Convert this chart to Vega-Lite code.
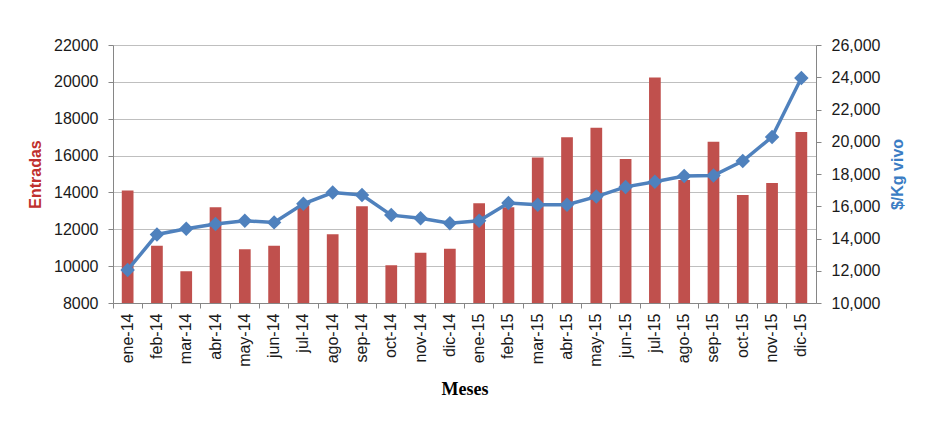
{
  "$schema": "https://vega.github.io/schema/vega-lite/v6.json",
  "width": 703,
  "height": 258,
  "autosize": {"type": "none"},
  "padding": {"left": 113, "top": 45, "right": 115, "bottom": 122},
  "background": "white",
  "config": {
    "view": {"stroke": null},
    "font": "Liberation Sans",
    "axis": {
      "domainColor": "#868686",
      "tickColor": "#868686",
      "tickSize": 5,
      "labelColor": "#1a1a1a",
      "labelFont": "Liberation Sans",
      "labelFontSize": 16,
      "gridColor": "#BFBFBF",
      "gridWidth": 1.2
    }
  },
  "data": {
    "values": [
      {"mes": "ene-14", "entradas": 14100, "precio": 12050},
      {"mes": "feb-14", "entradas": 11100, "precio": 14250},
      {"mes": "mar-14", "entradas": 9720, "precio": 14600},
      {"mes": "abr-14", "entradas": 13200, "precio": 14900},
      {"mes": "may-14", "entradas": 10920, "precio": 15100},
      {"mes": "jun-14", "entradas": 11100, "precio": 15000},
      {"mes": "jul-14", "entradas": 13300, "precio": 16150},
      {"mes": "ago-14", "entradas": 11730, "precio": 16850},
      {"mes": "sep-14", "entradas": 13250, "precio": 16700},
      {"mes": "oct-14", "entradas": 10050, "precio": 15450},
      {"mes": "nov-14", "entradas": 10720, "precio": 15250},
      {"mes": "dic-14", "entradas": 10950, "precio": 14950},
      {"mes": "ene-15", "entradas": 13410, "precio": 15100},
      {"mes": "feb-15", "entradas": 13200, "precio": 16200},
      {"mes": "mar-15", "entradas": 15900, "precio": 16100},
      {"mes": "abr-15", "entradas": 17000, "precio": 16100},
      {"mes": "may-15", "entradas": 17510, "precio": 16600},
      {"mes": "jun-15", "entradas": 15810, "precio": 17200},
      {"mes": "jul-15", "entradas": 20230, "precio": 17520},
      {"mes": "ago-15", "entradas": 14680, "precio": 17870},
      {"mes": "sep-15", "entradas": 16750, "precio": 17900},
      {"mes": "oct-15", "entradas": 13860, "precio": 18800},
      {"mes": "nov-15", "entradas": 14510, "precio": 20300},
      {"mes": "dic-15", "entradas": 17280, "precio": 23950}
    ]
  },
  "encoding": {
    "x": {
      "field": "mes",
      "type": "ordinal",
      "sort": null,
      "scale": {"paddingInner": 0, "paddingOuter": 0},
      "axis": {
        "title": "Meses",
        "titleFont": "Liberation Serif",
        "titleFontSize": 18,
        "titleFontWeight": "bold",
        "titleColor": "#000000",
        "titlePadding": 14,
        "labelAngle": -90,
        "labelPadding": 5,
        "labelFontSize": 16,
        "bandPosition": 0,
        "ticks": true,
        "grid": false
      }
    }
  },
  "layer": [
    {
      "mark": {"type": "bar", "color": "#C0504D", "width": {"band": 0.4}, "clip": true},
      "encoding": {
        "y": {
          "field": "entradas",
          "type": "quantitative",
          "scale": {"domain": [8000, 22000], "zero": false, "nice": false},
          "axis": {
            "orient": "left",
            "title": "Entradas",
            "titleColor": "#C0302E",
            "titleFontSize": 16,
            "titleFontWeight": "bold",
            "titlePadding": 10,
            "values": [8000, 10000, 12000, 14000, 16000, 18000, 20000, 22000],
            "format": "d",
            "labelPadding": 10,
            "grid": true
          }
        }
      }
    },
    {
      "mark": {
        "type": "line",
        "color": "#4F81BD",
        "strokeWidth": 3.5,
        "point": {"shape": "diamond", "size": 210, "filled": true, "color": "#4F81BD", "opacity": 1}
      },
      "encoding": {
        "y": {
          "field": "precio",
          "type": "quantitative",
          "scale": {"domain": [10000, 26000], "zero": false, "nice": false},
          "axis": {
            "orient": "right",
            "title": "$/Kg vivo",
            "titleColor": "#3B7DC4",
            "titleFontSize": 16,
            "titleFontWeight": "bold",
            "titleAngle": 270,
            "titleBaseline": "top",
            "titlePadding": 10,
            "values": [10000, 12000, 14000, 16000, 18000, 20000, 22000, 24000, 26000],
            "format": ",d",
            "labelPadding": 10,
            "grid": false
          }
        }
      }
    }
  ],
  "resolve": {"scale": {"y": "independent"}}
}
